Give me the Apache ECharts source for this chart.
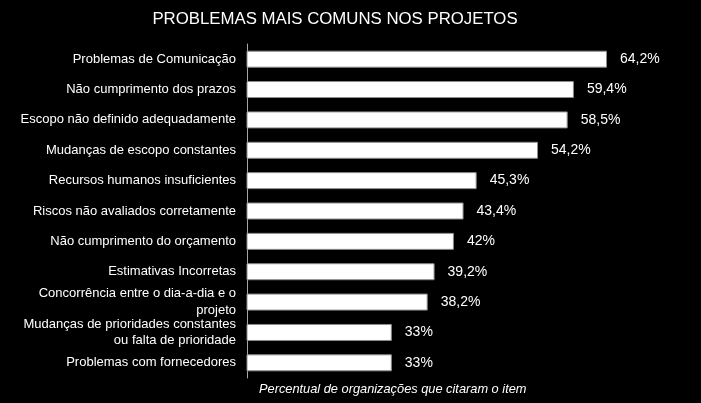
<!DOCTYPE html>
<html><head><meta charset="utf-8">
<script src="https://cdn.jsdelivr.net/npm/echarts@6/dist/echarts.min.js"></script>
<style>html,body{margin:0;padding:0;background:#000;}#c{width:701px;height:403px;}</style>
</head><body><div id="c"></div>
<script>
const titleText = 'PROBLEMAS MAIS COMUNS NOS PROJETOS';
const axisNameText = 'Percentual de organizações que citaram o item';
const categories = [
  'Problemas de Comunicação',
  'Não cumprimento dos prazos',
  'Escopo não definido adequadamente',
  'Mudanças de escopo constantes',
  'Recursos humanos insuficientes',
  'Riscos não avaliados corretamente',
  'Não cumprimento do orçamento',
  'Estimativas Incorretas',
  'Concorrência entre o dia-a-dia e o\nprojeto',
  'Mudanças de prioridades constantes\nou falta de prioridade',
  'Problemas com fornecedores'
];
const values = [64.2, 59.4, 58.5, 54.2, 45.3, 43.4, 42, 39.2, 38.2, 33, 33];

const chart = echarts.init(document.getElementById('c'));
chart.setOption({
  backgroundColor: '#000',
  animation: false,
  title: [
    { text: titleText, left: 330, top: 6, textAlign: 'center',
      textStyle: { color: '#fff', fontFamily: 'Liberation Sans', fontSize: 16.8, fontWeight: 'normal' } },
    { text: axisNameText, left: 254, top: 378,
      textStyle: { color: '#fff', fontFamily: 'Liberation Sans', fontSize: 12.8, fontStyle: 'italic', fontWeight: 'normal' } }
  ],
  grid: { left: 247, top: 44, width: 400, height: 334, containLabel: false },
  xAxis: {
    type: 'value', min: 12, max: 70, interval: 2,
    show: false, splitLine: { show: false }
  },
  yAxis: {
    type: 'category', data: categories, inverse: true,
    axisLine: { show: true, lineStyle: { color: '#a6a6a6', width: 1 } },
    axisTick: { show: false },
    axisLabel: { color: '#fff', fontFamily: 'Liberation Sans', fontSize: 13, margin: 11, lineHeight: 16.5, align: 'right' }
  },
  series: [{
    type: 'bar', data: values, barWidth: 17,
    itemStyle: { color: '#fff', borderColor: '#8c8c8c', borderWidth: 1 },
    label: {
      show: true, position: 'right', distance: 13, color: '#fff',
      fontFamily: 'Liberation Sans', fontSize: 14,
      formatter: p => String(p.value).replace('.', ',') + '%'
    }
  }]
});
</script></body></html>
